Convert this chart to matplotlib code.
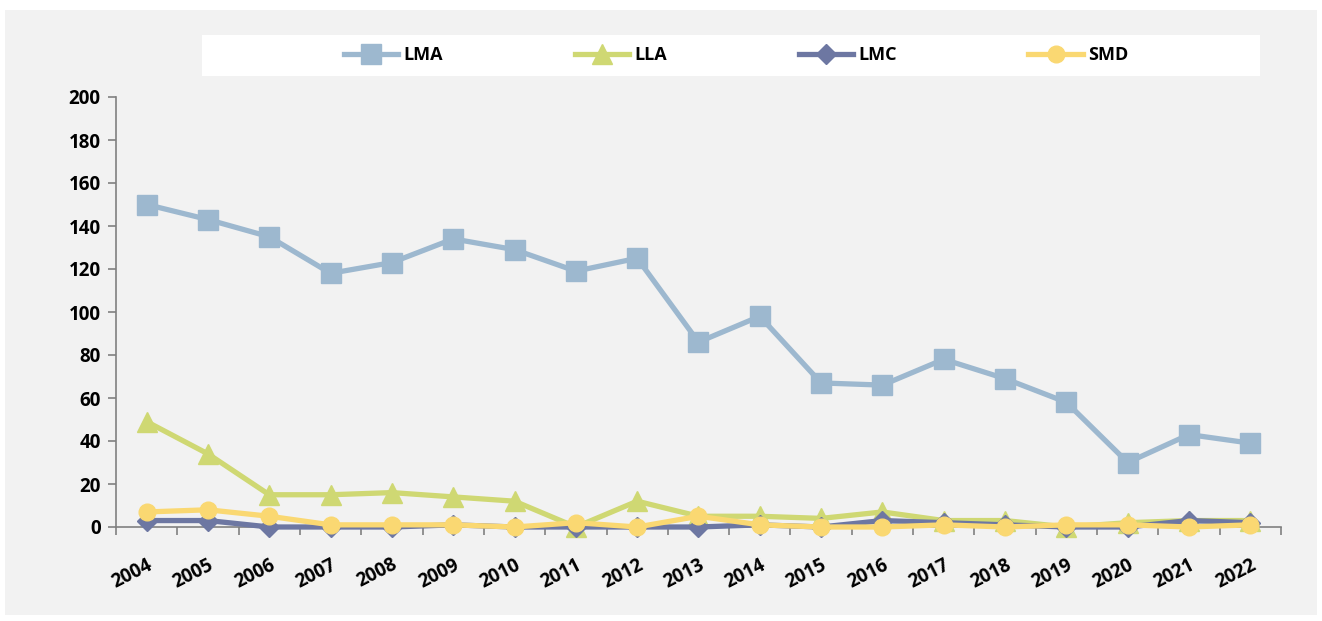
import matplotlib
matplotlib.use("Agg")
import matplotlib.pyplot as plt
from matplotlib.patches import Rectangle

years = [str(y) for y in range(2004, 2023)]
lma = [150, 143, 135, 118, 123, 134, 129, 119, 125, 86, 98, 67, 66, 78, 69, 58, 30, 43, 39]
lla = [49, 34, 15, 15, 16, 14, 12, 0, 12, 5, 5, 4, 7, 3, 3, 0, 2, 3, 3]
lmc = [3, 3, 0, 0, 0, 1, 0, 0, 0, 0, 1, 0, 3, 2, 1, 0, 0, 3, 2]
smd = [7, 8, 5, 1, 1, 1, 0, 2, 0, 5, 1, 0, 0, 1, 0, 1, 1, 0, 1]

plt.rcParams["font.family"] = ["Open Sans", "DejaVu Sans"]

W, H = 1322, 621
fig = plt.figure(figsize=(W / 100, H / 100), dpi=100, facecolor="white")
# gray chart panel inside a thin white border
fig.patches.append(Rectangle((5 / W, 6 / H), 1312 / W, 605 / H, transform=fig.transFigure,
                             facecolor="#F2F2F2", edgecolor="none", zorder=-2))
# white legend band
fig.patches.append(Rectangle((202 / W, 1 - 76 / H), 1058 / W, 41 / H, transform=fig.transFigure,
                             facecolor="white", edgecolor="none", zorder=-1))

ax = fig.add_axes([116 / W, 94 / H, 1165 / W, 430 / H])
ax.set_facecolor("none")
ax.set_zorder(2)

x = list(range(len(years)))
series = [
    ("LMA", lma, "#9DB8CF", "s", 14),
    ("LLA", lla, "#CFD873", "^", 15),
    ("LMC", lmc, "#6D77A2", "D", 10),
    ("SMD", smd, "#FAD872", "o", 12),
]
for name, vals, col, mk, ms in series:
    ax.plot(x, vals, color=col, lw=3.8, marker=mk, ms=ms, mfc=col, mec=col,
            label=name, clip_on=False, zorder=3)

ax.set_xlim(-0.5, len(years) - 0.5)
ax.set_ylim(0, 200)
ax.set_yticks(range(0, 201, 20))
ax.set_xticks([i - 0.5 for i in range(len(years) + 1)])
ax.set_xticklabels([])
ax.set_xticks(x, minor=True)
ax.set_xticklabels(years, minor=True, rotation=27, fontweight="bold", fontsize=13.5,
                   ha="right", va="top", rotation_mode="anchor")
ax.tick_params(axis="x", which="major", length=6, color="#808080", width=1.2, direction="out")
ax.tick_params(axis="x", which="minor", length=0, pad=20)
ax.tick_params(axis="y", length=6, color="#808080", width=1.2, labelsize=13.5, pad=5)
for lbl in ax.get_yticklabels():
    lbl.set_fontweight("bold")

for s in ["top", "right"]:
    ax.spines[s].set_visible(False)
for s in ["left", "bottom"]:
    ax.spines[s].set_color("#808080")
    ax.spines[s].set_linewidth(1.2)
ax.spines["bottom"].set_bounds(-0.5, len(years) - 0.5)

leg = fig.legend(loc="center", bbox_to_anchor=(736 / W, 1 - 55 / H), ncol=4, frameon=False,
                 handlelength=3.0, handletextpad=0.3, columnspacing=7.3, markerscale=1.0,
                 prop={"weight": "bold", "size": 13})

fig.savefig("out.png", dpi=100, facecolor=fig.get_facecolor())
